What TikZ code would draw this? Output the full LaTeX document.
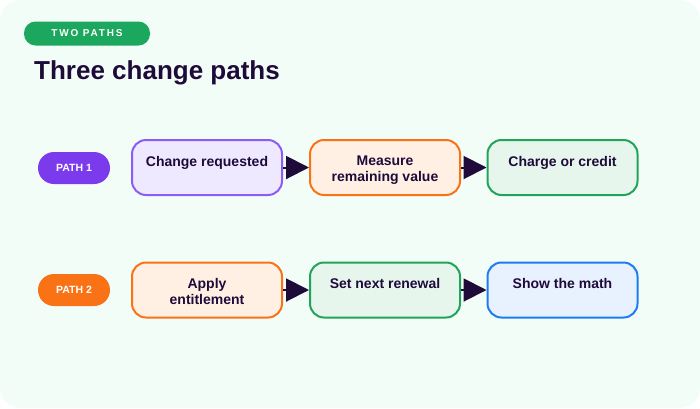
\documentclass[tikz,border=0pt]{standalone}
\usepackage{fontspec}
\setmainfont{Liberation Sans}
\usetikzlibrary{arrows.meta}
\definecolor{bgmint}{HTML}{F2FDF8}
\definecolor{ink}{HTML}{1E0B3A}
\definecolor{badgegreen}{HTML}{1BA75E}
\definecolor{purp}{HTML}{8B5CF6}
\definecolor{purpfill}{HTML}{EEE9FE}
\definecolor{purppill}{HTML}{7C3AED}
\definecolor{orng}{HTML}{F97316}
\definecolor{orngfill}{HTML}{FFF0E3}
\definecolor{grn}{HTML}{22A35A}
\definecolor{grnfill}{HTML}{E6F6EC}
\definecolor{blu}{HTML}{1E7BF2}
\definecolor{blufill}{HTML}{E8F1FE}
\tikzset{
  stepbox/.style={draw, line width=2pt, rounded corners=14pt, minimum width=150pt, minimum height=55pt, inner sep=0pt},
  boxtext/.style={anchor=north, align=center, text=ink, font=\fontsize{14}{16}\selectfont\bfseries, inner sep=0pt},
  pill/.style={rounded corners=16pt, minimum width=72pt, minimum height=32pt, inner sep=0pt, text=white, font=\fontsize{10.5}{12}\selectfont\bfseries},
  arr/.style={draw=ink, fill=ink, line width=2pt, -{Triangle[length=23pt,width=23pt]}, shorten >=0pt},
}
\begin{document}
\begin{tikzpicture}[x=1pt,y=-1pt]
\useasboundingbox (0,0) rectangle (700,408);
\fill[bgmint, rounded corners=20pt] (0,0) rectangle (700,408);
% badge
\node[fill=badgegreen, rounded corners=11.5pt, minimum width=126pt, minimum height=24pt, inner sep=0pt, text=white, font=\fontsize{10}{12}\selectfont\bfseries\addfontfeature{LetterSpace=18}] (badge) at (87,33.5) {TWO PATHS};
% title
\node[anchor=base west, inner sep=0pt, text=ink, font=\fontsize{26}{30}\selectfont\bfseries] (title) at (34,79) {Three change paths};
% row 1
\node[pill, fill=purppill] (p1) at (74,168) {PATH 1};
\node[stepbox, draw=purp, fill=purpfill] (a1) at (207,167.5) {};
\node[stepbox, draw=orng, fill=orngfill] (a2) at (385,167.5) {};
\node[stepbox, draw=grn, fill=grnfill] (a3) at (562.5,167.5) {};
\node[boxtext] (t1) at ([yshift=-17pt]a1.north) {Change requested};
\node[boxtext] (t2) at ([yshift=-17pt]a2.north) {Measure\\remaining value};
\node[boxtext] (t3) at ([yshift=-17pt]a3.north) {Charge or credit};
\draw[arr] (a1.east) -- (a2.west);
\draw[arr] (a2.east) -- (a3.west);
% row 2
\node[pill, fill=orng] (p2) at (74,290) {PATH 2};
\node[stepbox, draw=orng, fill=orngfill] (b1) at (207,290) {};
\node[stepbox, draw=grn, fill=grnfill] (b2) at (385,290) {};
\node[stepbox, draw=blu, fill=blufill] (b3) at (562.5,290) {};
\node[boxtext] (u1) at ([yshift=-17pt]b1.north) {Apply\\entitlement};
\node[boxtext] (u2) at ([yshift=-17pt]b2.north) {Set next renewal};
\node[boxtext] (u3) at ([yshift=-17pt]b3.north) {Show the math};
\draw[arr] (b1.east) -- (b2.west);
\draw[arr] (b2.east) -- (b3.west);
\end{tikzpicture}
\end{document}
